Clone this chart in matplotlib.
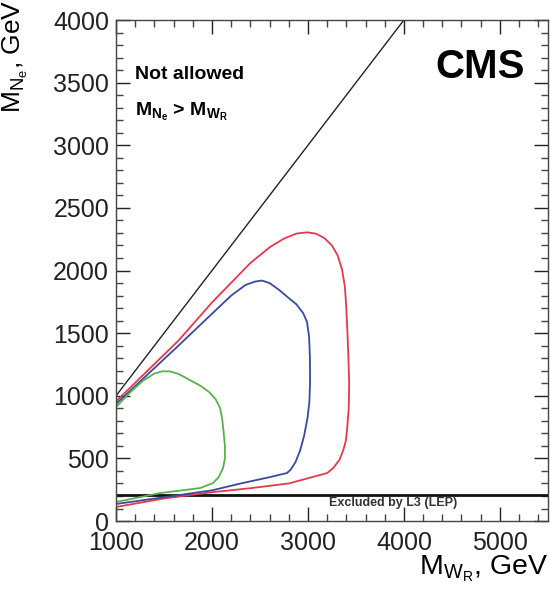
import matplotlib
matplotlib.use("Agg")
import matplotlib.pyplot as plt
from matplotlib.ticker import MultipleLocator

plt.rcParams["font.family"] = ["Liberation Sans", "DejaVu Sans"]
plt.rcParams["mathtext.fontset"] = "custom"
plt.rcParams["mathtext.rm"] = "Liberation Sans"
plt.rcParams["mathtext.it"] = "Liberation Sans:italic"
plt.rcParams["mathtext.bf"] = "Liberation Sans:bold"

# contour values (M_WR, M_Ne in GeV)
red_x = [1000, 1650, 2000, 2400, 2600, 2750, 2880, 2990, 3080, 3170, 3250, 3310,
         3355, 3385, 3400, 3412, 3422, 3430, 3425, 3410, 3395, 3370, 3330, 3260,
         3200, 2800, 2400, 2000, 1500, 1000]
red_y = [955, 1440, 1745, 2060, 2185, 2255, 2295, 2305, 2295, 2260, 2200, 2120,
         2010, 1870, 1700, 1500, 1300, 1100, 900, 750, 640, 570, 490, 420,
         383, 300, 262, 230, 180, 112]

blue_x = [1000, 1650, 2000, 2200, 2350, 2450, 2521, 2600, 2700, 2800, 2880, 2950,
          2990, 3012, 3021, 3022, 3015, 2995, 2960, 2917, 2870, 2820, 2781, 2600,
          2300, 2000, 1500, 1000]
blue_y = [935, 1400, 1655, 1800, 1885, 1912, 1920, 1900, 1845, 1780, 1730, 1660,
          1590, 1470, 1300, 1100, 950, 820, 680, 560, 470, 410, 383, 350,
          300, 245, 190, 136]

green_x = [1000, 1150, 1280, 1400, 1480, 1560, 1650, 1771, 1880, 1970, 2040, 2085,
           2105, 2120, 2135, 2135, 2115, 2070, 2010, 1875, 1458, 1000]
green_y = [910, 1030, 1120, 1178, 1195, 1195, 1175, 1125, 1080, 1030, 970, 900,
           820, 720, 600, 500, 423, 350, 303, 263, 223, 152]

diag_x = [1000, 4000]
diag_y = [1000, 4000]
lep_limit = 210

fig = plt.figure(figsize=(5.5, 5.91), dpi=100)
ax = fig.add_axes([0.211, 0.1184, 0.785, 0.8477])

ax.plot(diag_x, diag_y, color="#222222", lw=1.0)
ax.axhline(lep_limit, color="#111111", lw=2.0)
ax.plot(red_x, red_y, color="#e23a4e", lw=1.3)
ax.plot(blue_x, blue_y, color="#3a4a9e", lw=1.3)
ax.plot(green_x, green_y, color="#5ab04c", lw=1.3)

ax.set_xlim(1000, 5500)
ax.set_ylim(0, 4000)
ax.xaxis.set_major_locator(MultipleLocator(1000))
ax.xaxis.set_minor_locator(MultipleLocator(200))
ax.yaxis.set_major_locator(MultipleLocator(500))
ax.yaxis.set_minor_locator(MultipleLocator(100))
ax.tick_params(which="both", direction="in", top=True, right=True,
               color="#444444", width=1.0)
ax.tick_params(which="major", length=10, labelsize=18, colors="#222222")
ax.tick_params(which="minor", length=5)
ax.tick_params(axis="x", pad=7)
ax.tick_params(axis="y", pad=5)
for s in ax.spines.values():
    s.set_color("#444444")
    s.set_linewidth(1.0)

ax.set_ylabel(r"$\mathrm{M_{N_{e}}}$, GeV", fontsize=19, loc="top")
ax.yaxis.set_label_coords(-0.20, 1.04)
ax.set_xlabel(r"$\mathrm{M_{W_{R}}}$, GeV", fontsize=20.5, loc="right")
ax.xaxis.set_label_coords(1.0, -0.065)

ax.text(1198, 3567, "Not allowed", fontsize=14, fontweight="bold", va="center")
ax.text(1198, 3264, r"$\mathbf{M_{N_{e}}}$ > $\mathbf{M_{W_{R}}}$", fontsize=14,
        fontweight="bold", va="center")
ax.text(4792, 3623, "CMS", fontsize=29, fontweight="bold", ha="center", va="center")
ax.text(3885, 140, "Excluded by L3 (LEP)", fontsize=9, fontweight="bold",
        ha="center", va="center", color="#333333")

fig.savefig("out.png", dpi=100, facecolor="white")
